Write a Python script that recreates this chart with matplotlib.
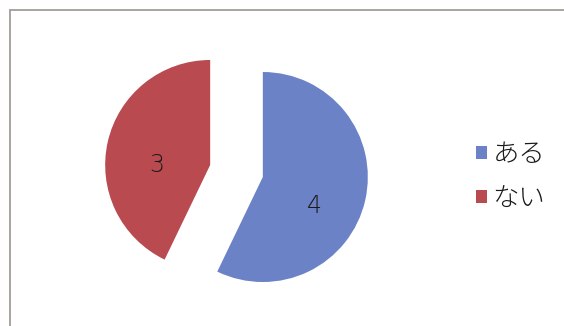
import matplotlib

matplotlib.use("Agg")
import matplotlib.pyplot as plt  # noqa: E402
from matplotlib.patches import Rectangle  # noqa: E402

plt.rcParams["font.family"] = ["Noto Sans CJK JP", "DejaVu Sans"]

labels = ["ある", "ない"]
counts = [4, 3]
colors = ["#6b82c6", "#b94a50"]

W, H = 564, 326
fig = plt.figure(figsize=(W / 100, H / 100), dpi=100)
fig.patch.set_facecolor("white")

# one axes over the whole canvas, one data unit = one pixel
ax = fig.add_axes([0, 0, 1, 1])
wedges, _ = ax.pie(counts, colors=colors, startangle=90, counterclock=False,
                   radius=105, center=(236.5, H - 171), explode=[27, 27],
                   wedgeprops={"linewidth": 0}, frame=True)
ax.set_xlim(0, W)
ax.set_ylim(0, H)
ax.set_aspect("equal")
ax.axis("off")

# chart frame, running off the right and bottom edges
ax.add_patch(Rectangle((10, -20), W, H - 10 + 20, fill=False,
                       edgecolor="#a29d95", linewidth=1.3))

# value labels inside the slices
for (x, y), n in zip([(314, 206), (157, 165)], counts):
    ax.text(x, H - y, str(n), ha="center", va="center", fontsize=17,
            color="#1a1a1a", family="DejaVu Sans", fontweight="light")

leg = ax.legend(wedges, labels, loc="center left", bbox_to_anchor=(463 / W, 1 - 176 / H),
                frameon=False, fontsize=19, handlelength=0.42, handleheight=0.42,
                handletextpad=0.2, labelspacing=0.6, borderpad=0)
for t in leg.get_texts():
    t.set_color("#1a1a1a")
    t.set_fontweight("light")

fig.savefig("out.png", dpi=100)
